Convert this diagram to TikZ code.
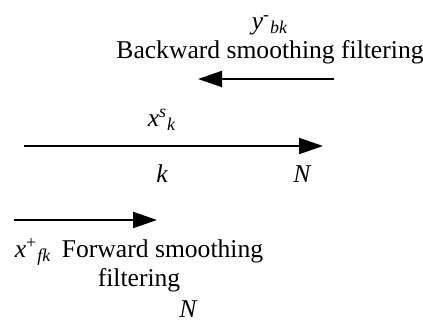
\documentclass[tikz,border=0pt]{standalone}
\usepackage{fontspec}
\setmainfont{Liberation Serif}
\usepackage{tikz}
\usetikzlibrary{arrows.meta, positioning}

\begin{document}
\begin{tikzpicture}[
    x=0.5pt, y=-0.5pt,
    lbl/.style={inner sep=0pt, font=\fontsize{12.8}{14.5}\selectfont, align=center},
    var/.style={inner sep=0pt, font=\fontsize{12.8}{14.5}\selectfont\itshape},
    flow/.style={line width=1pt, -{Triangle[length=12pt, width=8pt]}}
  ]
    \useasboundingbox (0,0) rectangle (423,325);

    % Backward pass
    \node (bwtext) [lbl] at (270,40) {\textit{y}\textsuperscript{-}\textsubscript{\itshape bk}\\Backward smoothing filtering};
    \coordinate (bwstart) at (334,79);
    \coordinate (bwend) at (198,79);

    % Time axis
    \node (xs) [var] at (162,120) {x\textsuperscript{s}\textsubscript{k}};
    \coordinate (axstart) at (24,146);
    \coordinate (axend) at (323,146);
    \node (kk) [var] at (162,174) {k};
    \node (nn) [var] at (302,174) {N};

    % Forward pass
    \coordinate (fwstart) at (14,220);
    \coordinate (fwend) at (157,220);
    \node (fwtext) [lbl] at (139,265) {\textit{x}\textsuperscript{+}\textsubscript{\itshape fk}\, Forward smoothing\\filtering};
    \node (nlow) [var] at (188,309) {N};

    % Arrows
    \draw [flow] (bwstart) -- (bwend);
    \draw [flow] (axstart) -- (axend);
    \draw [flow] (fwstart) -- (fwend);

\end{tikzpicture}
\end{document}
